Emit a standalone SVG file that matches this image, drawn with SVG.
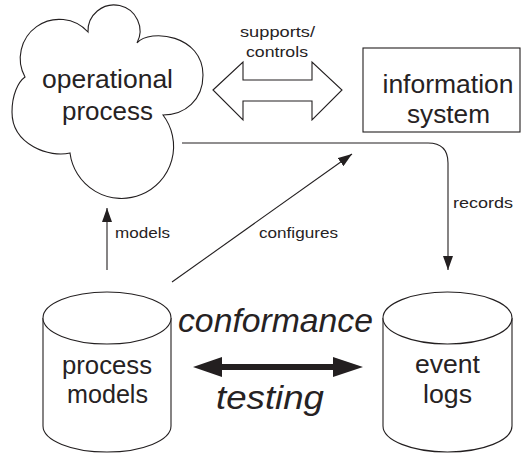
<svg xmlns="http://www.w3.org/2000/svg" width="525" height="453" viewBox="0 0 525 453">
<defs>
<style>
.shape{fill:#fff;stroke:#231f20;stroke-width:1.1}
.line{fill:none;stroke:#231f20;stroke-width:1.1}
.big{font-family:"Liberation Sans",Arial,sans-serif;font-size:25px;fill:#262223;text-anchor:middle}
.lbl{font-family:"Liberation Sans",Arial,sans-serif;font-size:15.5px;fill:#262223}
.it{font-family:"Liberation Sans",Arial,sans-serif;font-size:34px;font-style:italic;fill:#262223}
</style>
<marker id="ahl" viewBox="0 0 14 10" refX="14" refY="5" markerWidth="14" markerHeight="10" markerUnits="userSpaceOnUse" orient="auto">
<path d="M0,0 L14,5 L0,10 Z" fill="#231f20"/>
</marker>
</defs>
<rect width="525" height="453" fill="#fff"/>

<g id="operational-process">
<path class="shape" d="M25,77 A39,39 0 0 1 88,32 A26,26 0 1 1 137,43 C150,28 203,35 203,75 C203,100 185,115 163,115 A52,52 0 1 1 70,153 C50,158 12,145 12,112 C12,95 18,82 25,77 Z"/>
<text class="big" x="107.5" y="88" textLength="131" lengthAdjust="spacingAndGlyphs">operational</text>
<text class="big" x="107.5" y="120" textLength="91" lengthAdjust="spacingAndGlyphs">process</text>
</g>

<g id="information-system">
<rect class="shape" x="363" y="48" width="157" height="84"/>
<text class="big" x="448" y="93" textLength="131" lengthAdjust="spacingAndGlyphs">information</text>
<text class="big" x="448.5" y="123" textLength="83" lengthAdjust="spacingAndGlyphs">system</text>
</g>

<g id="process-models">
<path class="shape" d="M43,318 L43,426 A64,26 0 0 0 171,426 L171,318"/>
<ellipse class="shape" cx="107" cy="318" rx="64" ry="26"/>
<text class="big" x="107" y="374" textLength="90" lengthAdjust="spacingAndGlyphs">process</text>
<text class="big" x="107.5" y="403" textLength="81" lengthAdjust="spacingAndGlyphs">models</text>
</g>

<g id="event-logs">
<path class="shape" d="M383,318 L383,426 A64.5,26 0 0 0 512,426 L512,318"/>
<ellipse class="shape" cx="447.5" cy="318" rx="64.5" ry="26"/>
<text class="big" x="447.5" y="373" textLength="65" lengthAdjust="spacingAndGlyphs">event</text>
<text class="big" x="447.5" y="403" textLength="49" lengthAdjust="spacingAndGlyphs">logs</text>
</g>

<g id="connectors">
<polygon class="shape" points="213,90 243,62 243,80 312,80 312,62 342,90 312,120 312,101 243,101 243,120"/>
<text class="lbl" x="240" y="37" textLength="75" lengthAdjust="spacingAndGlyphs">supports/</text>
<text class="lbl" x="246" y="57" textLength="62" lengthAdjust="spacingAndGlyphs">controls</text>

<path class="line" d="M107,270 L107,208" marker-end="url(#ahl)"/>
<text class="lbl" x="115" y="238" textLength="55" lengthAdjust="spacingAndGlyphs">models</text>

<path class="line" d="M172,282 L352,154" marker-end="url(#ahl)"/>
<text class="lbl" x="259" y="238" textLength="79" lengthAdjust="spacingAndGlyphs">configures</text>

<path class="line" d="M182,143 L428,143 Q448,143 448,163 L448,270" marker-end="url(#ahl)"/>
<text class="lbl" x="453" y="208" textLength="60" lengthAdjust="spacingAndGlyphs">records</text>

<polygon fill="#231f20" points="193,367 222,357 222,364 333,364 333,357 363,367 333,377 333,370 222,370 222,377"/>
<text class="it" x="178" y="332" textLength="195" lengthAdjust="spacingAndGlyphs">conformance</text>
<text class="it" x="216" y="409" font-size="36" textLength="108" lengthAdjust="spacingAndGlyphs">testing</text>
</g>
</svg>
